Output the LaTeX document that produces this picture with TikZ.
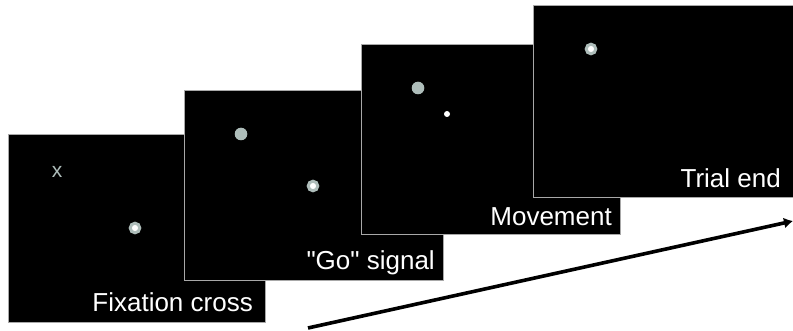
\documentclass[tikz,border=0pt]{standalone}
\usepackage{fontspec}
\setmainfont{Liberation Sans}[Ligatures=TeXOff]
\usetikzlibrary{arrows.meta}
\definecolor{bordergray}{HTML}{A8A8A8}
\definecolor{dotgray}{HTML}{AEBDBA}
\begin{document}
\begin{tikzpicture}[x=1pt,y=-1pt,
  panel/.style={draw=bordergray, line width=1pt, fill=black, rectangle, inner sep=0pt, anchor=north west},
  lbl/.style={text=white, font=\fontsize{26}{30}\selectfont, anchor=base east, inner sep=0pt},
  gdot/.style={circle, fill=dotgray, minimum size=12.6pt, inner sep=0pt},
  ringdot/.style={circle, fill=white, draw=dotgray, line width=3pt, minimum size=9.6pt, inner sep=0pt},
  wdot/.style={circle, fill=white, minimum size=6pt, inner sep=0pt},
  timearrow/.style={line width=3.6pt, -{Latex[length=9pt,width=11pt]}}]
\useasboundingbox[fill=white] (0,0) rectangle (793,331);
% panel 1
\node[panel, minimum width=257pt, minimum height=188pt] (p1) at (8,134) {};
\node[text=dotgray, font=\fontsize{21}{24}\selectfont, inner sep=0pt] (cross) at (57,172) {x};
\node[ringdot] (t1) at (135,228) {};
\node[lbl] (l1) at (253,312) {Fixation cross};
% panel 2
\node[panel, minimum width=259pt, minimum height=190pt] (p2) at (184,90) {};
\node[gdot] (g2) at (241,134) {};
\node[ringdot] (t2) at (313,186) {};
\node[lbl] (l2) at (435,270) {"Go" signal};
% panel 3
\node[panel, minimum width=259pt, minimum height=190pt] (p3) at (361,44) {};
\node[gdot] (g3) at (418,88) {};
\node[wdot] (h3) at (447,114) {};
\node[lbl] (l3) at (612,226) {Movement};
% panel 4
\node[panel, minimum width=265pt, minimum height=192pt] (p4) at (533,5) {};
\node[ringdot] (t4) at (591,49) {};
\node[lbl] (l4) at (781,188) {Trial end};
% time arrow
\coordinate (a0) at (308,328);
\coordinate (a1) at (793,221);
\draw[timearrow] (a0) -- (a1);
\end{tikzpicture}
\end{document}
